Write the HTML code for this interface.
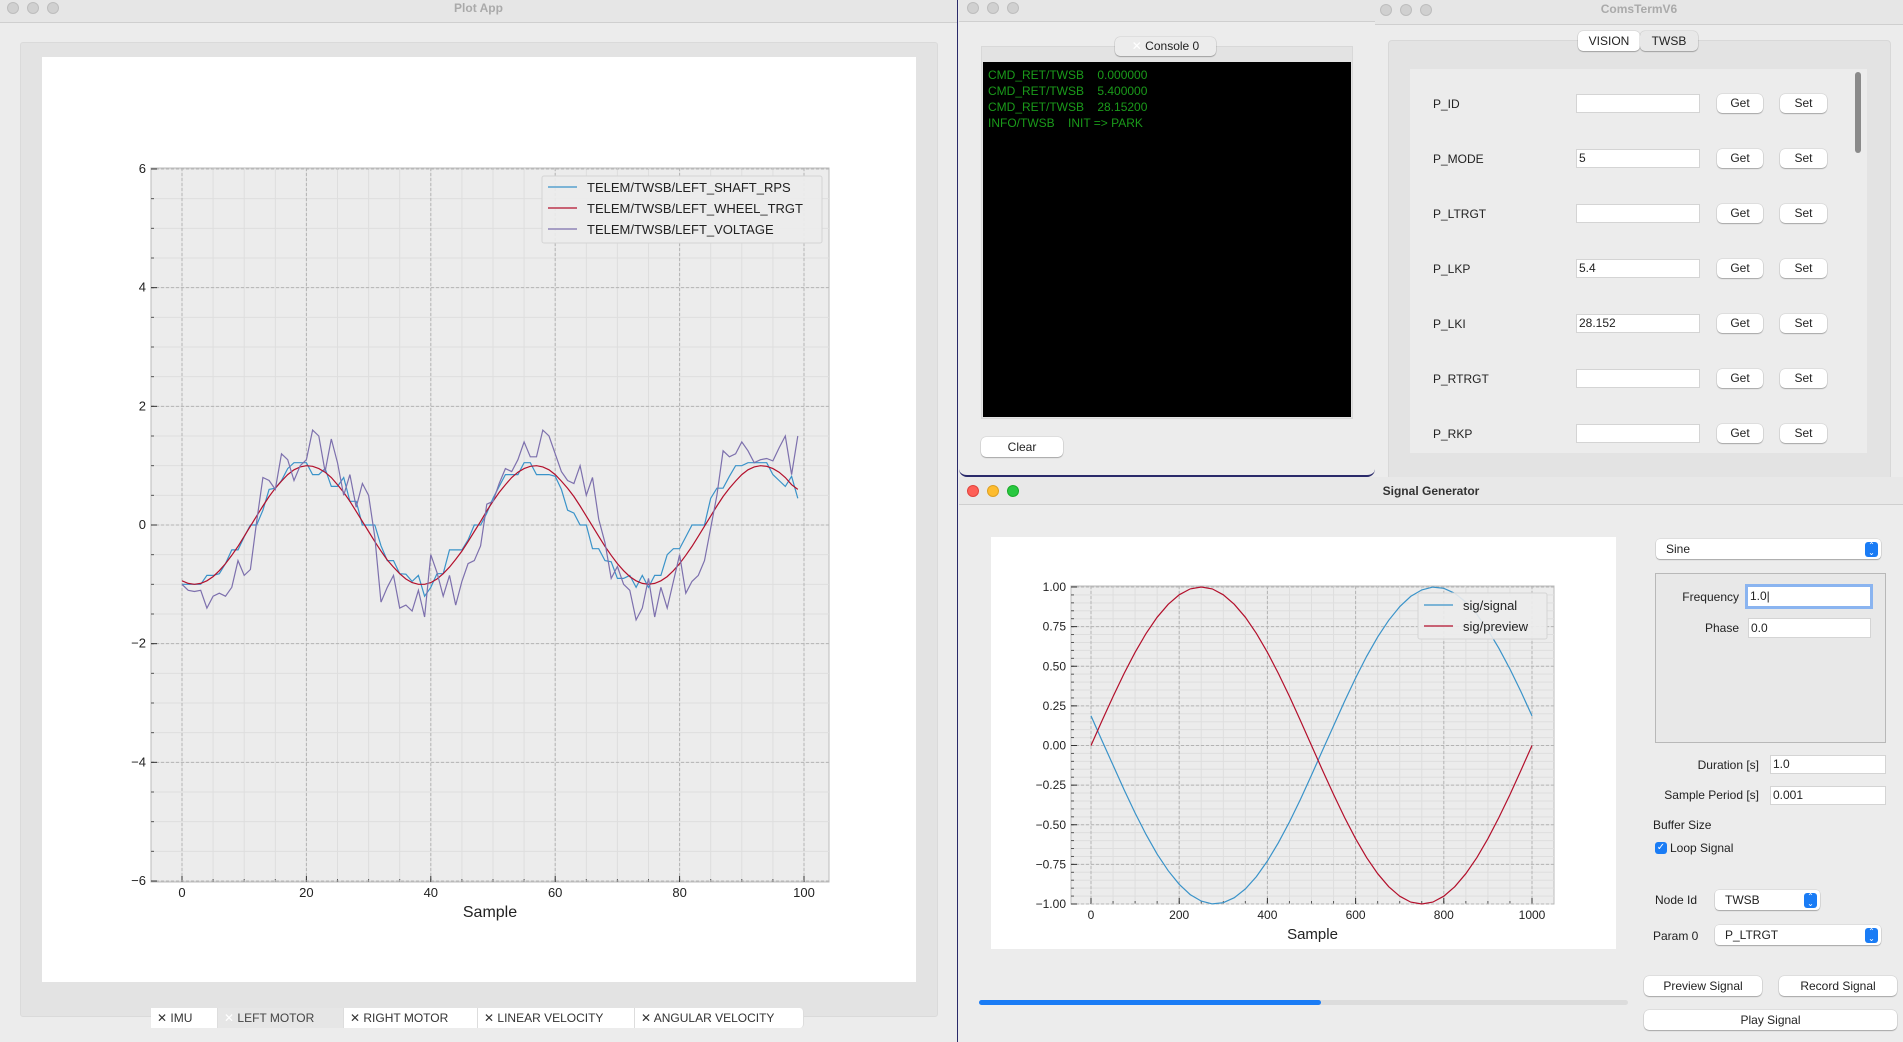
<!DOCTYPE html>
<html><head><meta charset="utf-8">
<style>
*{box-sizing:border-box;margin:0;padding:0}
body{width:1903px;height:1042px;background:#ececec;font-family:"Liberation Sans",sans-serif;font-size:12px;color:#222;position:relative;overflow:hidden}
.abs{position:absolute}
.win{position:absolute;background:#ececec;overflow:hidden}
.tbar{position:absolute;left:0;right:0;top:0;background:#e6e6e6;border-bottom:1px solid #cfcfcf;text-align:center;font-weight:bold;font-size:12px;color:#aaa}
.dot{position:absolute;width:12px;height:12px;border-radius:50%;background:#d0d0d0;border:1px solid #bdbdbd}
.btn{position:absolute;background:#fff;border-radius:5px;box-shadow:0 1px 1px rgba(0,0,0,.25),0 0 0 .5px rgba(0,0,0,.12);text-align:center;font-size:12px;color:#222}
.inp{position:absolute;background:#fff;border:1px solid #d4d4d4;font-size:12px;padding-left:2px}
.lbl{position:absolute;font-size:12px;color:#222;white-space:nowrap}
.tab{position:absolute;top:1008px;height:20px;background:#fff;font-size:12px;color:#333;padding-left:6px;line-height:20px;border-right:1px solid #ddd}
.combo{position:absolute;background:#fff;border-radius:4px;box-shadow:0 1px 1px rgba(0,0,0,.25),0 0 0 .5px rgba(0,0,0,.12);font-size:12px;padding-left:10px}
.arr{position:absolute;right:3px;top:3px;width:13px;height:15px;background:#1a7cf5;border-radius:3px;color:#fff;font-size:8px;line-height:7px;text-align:center}
</style></head><body>

<!-- Plot App -->
<div class="win" style="left:0;top:0;width:958px;height:1042px;border-right:1px solid #2a2a6a">
  <div class="tbar" style="height:23px;line-height:16px">Plot App</div>
  <div class="dot" style="left:7px;top:2px"></div><div class="dot" style="left:27px;top:2px"></div><div class="dot" style="left:47px;top:2px"></div>
  <div class="abs" style="left:20px;top:42px;width:918px;height:975px;background:#e3e3e3;border:1px solid #dadada;border-radius:3px"></div>
  <div class="abs" style="left:42px;top:57px;width:874px;height:925px;background:#fff"></div>
  <svg id="plot1" class="abs" style="left:0;top:0" width="958" height="1042"></svg>
  <div class="tab" style="left:151px;width:67px">✕ IMU</div>
  <div class="tab" style="left:218px;width:126px;background:#e6e6e6;color:#444"><span style="color:#fff">✕</span> LEFT MOTOR</div>
  <div class="tab" style="left:344px;width:134px">✕ RIGHT MOTOR</div>
  <div class="tab" style="left:478px;width:157px">✕ LINEAR VELOCITY</div>
  <div class="tab" style="left:635px;width:169px;border-radius:0 4px 4px 0">✕ ANGULAR VELOCITY</div>
</div>

<!-- Console -->
<div class="win" style="left:959px;top:0;width:416px;height:477px;border-bottom:2px solid #2a2a6a;border-radius:0 0 8px 8px">
  <div class="tbar" style="height:22px"></div>
  <div class="dot" style="left:8px;top:2px"></div><div class="dot" style="left:28px;top:2px"></div><div class="dot" style="left:48px;top:2px"></div>
  <div class="abs" style="left:22px;top:46px;width:372px;height:373px;background:#e3e3e3;border:1px solid #d8d8d8"></div>
  <div class="btn" style="left:156px;top:37px;width:101px;height:19px;line-height:19px;background:#ececec"><span style="color:#fff">✕</span> Console 0</div>
  <div class="abs" style="left:24px;top:62px;width:368px;height:355px;background:#000;color:#1a9a1a;font-size:12px;line-height:16px;padding:5px 5px;white-space:pre">CMD_RET/TWSB    0.000000
CMD_RET/TWSB    5.400000
CMD_RET/TWSB    28.15200
INFO/TWSB    INIT =&gt; PARK</div>
  <div class="btn" style="left:22px;top:437px;width:82px;height:20px;line-height:20px">Clear</div>
</div>

<!-- ComsTerm -->
<div class="win" style="left:1375px;top:0;width:528px;height:477px">
  <div class="tbar" style="height:25px;line-height:18px">ComsTermV6</div>
  <div class="dot" style="left:5px;top:4px"></div><div class="dot" style="left:25px;top:4px"></div><div class="dot" style="left:45px;top:4px"></div>
  <div class="abs" style="left:13px;top:40px;width:503px;height:440px;background:#e3e3e3;border:1px solid #d8d8d8;border-radius:4px"></div>
  <div class="btn" style="left:203px;top:31px;width:62px;height:20px;line-height:20px">VISION</div>
  <div class="btn" style="left:265px;top:31px;width:58px;height:20px;line-height:20px;background:#e8e8e8">TWSB</div>
  <div class="abs" style="left:35px;top:69px;width:457px;height:384px;background:#ececec"></div>
  <div class="abs" style="left:480px;top:72px;width:6px;height:81px;background:#8a8a8a;border-radius:3px"></div>
  <div id="params"></div>
</div>

<!-- Signal generator -->
<div class="win" style="left:959px;top:477px;width:944px;height:565px">
  <div class="tbar" style="height:28px;line-height:28px;color:#333;background:#e8e8e8">Signal Generator</div>
  <div class="dot" style="left:8px;top:8px;background:#fe5f57;border-color:#e0443e"></div>
  <div class="dot" style="left:28px;top:8px;background:#febc2e;border-color:#dea123"></div>
  <div class="dot" style="left:48px;top:8px;background:#28c840;border-color:#1aab29"></div>
  <div class="abs" style="left:32px;top:60px;width:625px;height:412px;background:#fff"></div>
  <svg id="plot2" class="abs" style="left:0;top:0" width="944" height="565"></svg>
  <div class="abs" style="left:20px;top:523px;width:649px;height:5px;background:#dcdcdc;border-radius:3px"></div>
  <div class="abs" style="left:20px;top:523px;width:342px;height:5px;background:#1a7cf5;border-radius:3px"></div>

  <div class="combo" style="left:697px;top:62px;width:225px;height:20px;line-height:20px">Sine<div class="arr">⌃<br>⌄</div></div>
  <div class="abs" style="left:696px;top:96px;width:231px;height:170px;border:1px solid #b8b8b8;background:#e8e8e8"></div>
  <div class="lbl" style="right:164px;top:113px">Frequency</div>
  <div class="inp" style="left:786px;top:107px;width:128px;height:25px;border:3px solid #8ab4f0;line-height:19px">1.0|</div>
  <div class="lbl" style="right:164px;top:144px">Phase</div>
  <div class="inp" style="left:789px;top:141px;width:123px;height:20px;line-height:18px">0.0</div>
  <div class="lbl" style="right:144px;top:281px">Duration [s]</div>
  <div class="inp" style="left:811px;top:278px;width:116px;height:19px;line-height:17px">1.0</div>
  <div class="lbl" style="right:144px;top:311px">Sample Period [s]</div>
  <div class="inp" style="left:811px;top:309px;width:116px;height:19px;line-height:17px">0.001</div>
  <div class="lbl" style="left:694px;top:341px">Buffer Size</div>
  <div class="abs" style="left:696px;top:365px;width:12px;height:12px;background:#1a7cf5;border-radius:3px;color:#fff;font-size:10px;line-height:12px;text-align:center">✓</div>
  <div class="lbl" style="left:711px;top:364px">Loop Signal</div>
  <div class="lbl" style="left:696px;top:416px">Node Id</div>
  <div class="combo" style="left:756px;top:413px;width:105px;height:20px;line-height:20px">TWSB<div class="arr">⌃<br>⌄</div></div>
  <div class="lbl" style="left:694px;top:452px">Param 0</div>
  <div class="combo" style="left:756px;top:448px;width:166px;height:20px;line-height:20px">P_LTRGT<div class="arr">⌃<br>⌄</div></div>
  <div class="btn" style="left:685px;top:499px;width:118px;height:20px;line-height:20px">Preview Signal</div>
  <div class="btn" style="left:820px;top:499px;width:118px;height:20px;line-height:20px">Record Signal</div>
  <div class="btn" style="left:685px;top:533px;width:253px;height:20px;line-height:20px">Play Signal</div>
</div>

<script>
// ---- Plot App data ----
const sampleIdx = Array.from({length:100},(_, i)=>i);
const shaftRps = [-1.0,-1.0,-1.0,-1.0,-0.85,-0.85,-0.82,-0.65,-0.42,-0.42,
-0.2,0.0,0.0,0.25,0.6,0.62,0.75,0.95,1.05,1.05,
1.05,0.85,0.85,0.95,0.65,0.65,0.8,0.4,0.4,0.0,
0.0,0.0,-0.35,-0.6,-0.6,-0.82,-0.83,-0.95,-0.85,-1.2,
-1.05,-0.82,-0.82,-0.42,-0.42,-0.42,-0.25,0.0,0.0,0.2,
0.45,0.65,0.85,0.85,0.85,1.05,1.05,0.85,0.85,0.85,
0.82,0.6,0.25,0.2,0.0,0.0,-0.4,-0.4,-0.6,-0.62,
-0.9,-0.9,-0.85,-1.05,-0.85,-1.05,-0.85,-0.85,-0.5,-0.4,
-0.4,-0.2,0.0,0.0,0.0,0.45,0.62,0.62,0.82,1.0,
1.0,1.05,1.05,1.05,1.05,0.85,0.75,0.65,0.82,0.45];
const wheelTrgt = [-0.94,-0.985,-1,-0.985,-0.94,-0.87,-0.77,-0.65,-0.51,-0.36,-0.19,-0.02,0.15,0.32,0.48,0.62,0.74,0.85,0.93,0.98,1.0,0.99,0.95,0.89,0.80,0.68,0.55,0.40,0.23,0.06,-0.11,-0.28,-0.44,-0.59,-0.71,-0.82,-0.91,-0.97,-1.0,-1.0,-0.97,-0.91,-0.82,-0.71,-0.58,-0.44,-0.28,-0.11,0.06,0.24,0.40,0.55,0.68,0.80,0.89,0.95,0.99,1.0,0.98,0.93,0.85,0.74,0.62,0.48,0.32,0.15,-0.02,-0.19,-0.36,-0.51,-0.65,-0.77,-0.87,-0.94,-0.985,-1,-0.985,-0.94,-0.87,-0.77,-0.65,-0.51,-0.36,-0.19,-0.02,0.15,0.32,0.48,0.62,0.74,0.85,0.93,0.98,1.0,0.99,0.95,0.89,0.80,0.68,0.60];
const voltage = [-1.0,-1.1,-1.12,-1.1,-1.4,-1.2,-1.15,-1.2,-1.05,-0.6,-0.85,-0.75,0.05,0.8,0.75,0.6,1.2,1.1,0.75,1.0,1.1,1.6,1.5,0.9,1.45,1.05,0.5,0.85,0.3,0.7,0.5,-0.2,-1.3,-1.05,-0.85,-1.4,-1.35,-1.45,-1.1,-1.55,-0.5,-0.8,-1.2,-0.85,-1.35,-0.95,-0.65,-0.6,-0.35,0.35,0.4,0.7,0.95,0.9,1.1,1.4,1.15,1.15,1.6,1.5,1.2,0.9,0.75,0.7,1.0,0.5,0.8,0.1,-0.3,-0.9,-0.7,-1.0,-1.1,-1.6,-1.4,-0.9,-1.55,-1.05,-1.4,-0.95,-0.5,-1.15,-0.95,-0.85,-0.6,-0.05,0.5,1.25,1.15,1.2,1.4,1.25,1.05,1.1,1.12,1.08,1.3,1.5,0.85,1.5];
const yTicks1 = [-6,-4,-2,0,2,4,6];
const xTicks1 = [0,20,40,60,80,100];
const legend1 = ["TELEM/TWSB/LEFT_SHAFT_RPS","TELEM/TWSB/LEFT_WHEEL_TRGT","TELEM/TWSB/LEFT_VOLTAGE"];

// ---- Signal generator data ----
const sigX = Array.from({length:41},(_, i)=>i*25);
const sigSignal = [0.187,0.031,-0.125,-0.279,-0.426,-0.562,-0.685,-0.790,-0.876,-0.941,-0.982,-0.9995,-0.992,-0.960,-0.905,-0.827,-0.729,-0.613,-0.482,-0.339,-0.187,-0.031,0.125,0.279,0.426,0.562,0.685,0.790,0.876,0.941,0.982,0.9995,0.992,0.960,0.905,0.827,0.729,0.613,0.482,0.339,0.187];
const sigPreview = [0,0.156,0.309,0.454,0.588,0.707,0.809,0.891,0.951,0.988,1,0.988,0.951,0.891,0.809,0.707,0.588,0.454,0.309,0.156,0,-0.156,-0.309,-0.454,-0.588,-0.707,-0.809,-0.891,-0.951,-0.988,-1,-0.988,-0.951,-0.891,-0.809,-0.707,-0.588,-0.454,-0.309,-0.156,0];
const yTicks2 = [-1,-0.75,-0.5,-0.25,0,0.25,0.5,0.75,1];
const yTickLabels2 = ["\u22121.00","\u22120.75","\u22120.50","\u22120.25","0.00","0.25","0.50","0.75","1.00"];
const xTicks2 = [0,200,400,600,800,1000];
const legend2 = ["sig/signal","sig/preview"];

const NS="http://www.w3.org/2000/svg";
function mk(svg,tag,attrs,name){const e=document.createElementNS(NS,tag);for(const k in attrs)e.setAttribute(k,attrs[k]);


svg.appendChild(e);return e;}
const FONT='"Liberation Sans",sans-serif';

function drawChart(svg,o){
  const X=v=>o.x0+(v-o.xmin)/(o.xmax-o.xmin)*(o.x1-o.x0);
  const Y=v=>o.y1-(v-o.ymin)/(o.ymax-o.ymin)*(o.y1-o.y0);
  mk(svg,'rect',{x:o.L,y:o.y0t,width:o.R-o.L,height:o.B-o.y0t,fill:'#ececec',stroke:'#bbb'},'plot-area');
  for(let v=o.xmin;v<=o.xmax+1e-9;v+=o.xminor){mk(svg,'line',{x1:X(v),x2:X(v),y1:o.y0t,y2:o.B,stroke:'#dedede','stroke-width':1},'x-minor-grid');
    mk(svg,'line',{x1:X(v),x2:X(v),y1:o.B,y2:o.B-3,stroke:'#555'},'x-minor-tick');}
  for(let v=o.ymin;v<=o.ymax+1e-9;v+=o.yminor){mk(svg,'line',{x1:o.L,x2:o.R,y1:Y(v),y2:Y(v),stroke:'#dedede','stroke-width':1},'y-minor-grid');
    mk(svg,'line',{x1:o.L,x2:o.L+3,y1:Y(v),y2:Y(v),stroke:'#555'},'y-minor-tick');}
  o.xt.forEach(v=>{mk(svg,'line',{x1:X(v),x2:X(v),y1:o.y0t,y2:o.B,stroke:'#b4b4b4','stroke-dasharray':'3,2'},'x-grid');
    mk(svg,'line',{x1:X(v),x2:X(v),y1:o.B,y2:o.B-6,stroke:'#333'},'x-tick');
    const t=mk(svg,'text',{x:X(v),y:o.B+15,'text-anchor':'middle','font-size':o.fs,'font-family':FONT,fill:'#222'},'x-tick-label');t.textContent=String(v);});
  o.yt.forEach((v,i)=>{mk(svg,'line',{x1:o.L,x2:o.R,y1:Y(v),y2:Y(v),stroke:'#b4b4b4','stroke-dasharray':'3,2'},'y-grid');
    mk(svg,'line',{x1:o.L,x2:o.L+6,y1:Y(v),y2:Y(v),stroke:'#333'},'y-tick');
    const t=mk(svg,'text',{x:o.L-5,y:Y(v)+4,'text-anchor':'end','font-size':o.fs,'font-family':FONT,fill:'#222'},'y-tick-label');t.textContent=o.ytl?o.ytl[i]:(v<0?'\u2212'+(-v):String(v));});
  const xl=mk(svg,'text',{x:(o.L+o.R)/2,y:o.B+35,'text-anchor':'middle','font-size':o.fs+3,'font-family':FONT,fill:'#222'},'x-axis-title');xl.textContent='Sample';
  o.series.forEach(s=>{const p=s.ys.map((y,i)=>X(o.xs[i]).toFixed(1)+','+Y(y).toFixed(1)).join(' ');
    mk(svg,'polyline',{points:p,fill:'none',stroke:s.c,'stroke-width':1.2},s.name);});
  const lg=o.lg;
  mk(svg,'rect',{x:lg.x,y:lg.y,width:lg.w,height:lg.h,fill:'#ececec','fill-opacity':0.9,stroke:'#d4d4d4',rx:2},'legend-box');
  o.series.forEach((s,i)=>{const yy=lg.y+lg.pad+i*lg.dy;
    mk(svg,'line',{x1:lg.x+6,x2:lg.x+35,y1:yy,y2:yy,stroke:s.c,'stroke-width':1.2},'legend-swatch');
    const t=mk(svg,'text',{x:lg.x+45,y:yy+5,'font-size':lg.fs,'font-family':FONT,fill:'#222'},'legend-entry');t.textContent=s.label;});
}

drawChart(document.getElementById('plot1'),{L:151,R:829,y0t:168,B:882,x0:182,x1:804,xmin:0,xmax:100,y0:169,y1:881,ymin:-6,ymax:6,
  xminor:5,yminor:0.5,xt:xTicks1,yt:yTicks1,fs:13,xs:sampleIdx,
  series:[{ys:shaftRps,c:'#3a93c9',label:legend1[0],name:'line-shaft-rps'},{ys:wheelTrgt,c:'#b3102c',label:legend1[1],name:'line-wheel-trgt'},{ys:voltage,c:'#7d70ad',label:legend1[2],name:'line-voltage'}],
  lg:{x:542,y:176,w:280,h:67,pad:11,dy:21,fs:13}});

drawChart(document.getElementById('plot2'),{L:112,R:595,y0t:109,B:427,x0:132,x1:573,xmin:0,xmax:1000,y0:110,y1:427,ymin:-1,ymax:1,
  xminor:50,yminor:0.05,xt:xTicks2,yt:yTicks2,ytl:yTickLabels2,fs:12,xs:sigX,
  series:[{ys:sigSignal,c:'#3a93c9',label:legend2[0],name:'line-signal'},{ys:sigPreview,c:'#b3102c',label:legend2[1],name:'line-preview'}],
  lg:{x:459,y:116,w:129,h:46,pad:12,dy:21,fs:13}});

const paramNames=["P_ID","P_MODE","P_LTRGT","P_LKP","P_LKI","P_RTRGT","P_RKP"];
const paramVals=["","5","","5.4","28.152","",""];
const host=document.getElementById('params');
paramNames.forEach((n,i)=>{const cy=104+i*55;
  host.insertAdjacentHTML('beforeend',
  `<div class="lbl" style="left:58px;top:${cy-7}px">${n}</div>`+
  `<div class="inp" style="left:201px;top:${cy-10}px;width:124px;height:19px;line-height:17px">${paramVals[i]}</div>`+
  `<div class="btn" style="left:342px;top:${cy-10}px;width:46px;height:19px;line-height:19px">Get</div>`+
  `<div class="btn" style="left:405px;top:${cy-10}px;width:47px;height:19px;line-height:19px">Set</div>`);});
</script>
</body></html>
